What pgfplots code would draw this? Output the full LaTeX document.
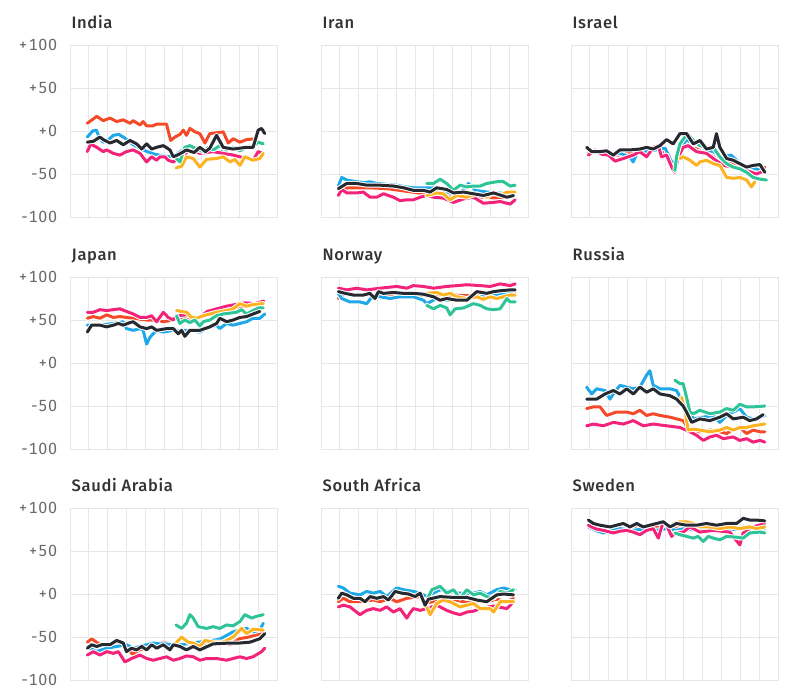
\documentclass[border=0pt]{standalone}
\usepackage{fontspec}
\setmainfont{Fira Sans}
\newfontfamily\titlefam{Fira Sans Medium}[LetterSpace=4]
\newfontfamily\tickfam{Fira Sans}[Numbers=Monospaced, LetterSpace=5]
\usepackage{pgfplots}
\pgfplotsset{compat=1.18}
\definecolor{cred}{HTML}{F54A2A}
\definecolor{cblue}{HTML}{1EA8E8}
\definecolor{cblack}{HTML}{262A30}
\definecolor{cpink}{HTML}{F3237A}
\definecolor{cgreen}{HTML}{2EC497}
\definecolor{cyellow}{HTML}{FDB321}
\definecolor{gridc}{HTML}{E6E6E6}
\definecolor{tickc}{HTML}{6A6A6A}
\definecolor{titlec}{HTML}{333333}
\pgfplotsset{
  panel/.style={
    at={#1}, anchor=north west, scale only axis,
    width=207bp, height=172bp,
    xmin=0, xmax=11, ymin=-100, ymax=100,
    xtick={1,2,3,4,5,6,7,8,9,10}, xticklabels={},
    ytick={-100,-50,0,50,100},
    xmajorgrids, ymajorgrids,
    major grid style={draw=gridc, line width=1bp},
    axis line style={draw=gridc, line width=1bp},
    major tick length=0pt, tick style={draw=none},
    title style={at={(0,1)}, anchor=base west, yshift=11bp, xshift=1.5bp,
      font=\titlefam\fontsize{16.6}{19}\selectfont, text=titlec, inner sep=0pt},
    yticklabel style={font=\tickfam\fontsize{16.2}{19}\selectfont, text=tickc, anchor=east, xshift=-12.5bp, inner sep=0pt},
    every axis plot/.append style={line width=3bp, line join=round, line cap=round,
      preaction={draw=white, line width=5bp}},
  },
  labs/.style={yticklabels={-100,-50,+0,+50,+100}},
  nolabs/.style={yticklabels={}},
}
\begin{document}
\begin{tikzpicture}
\path[use as bounding box] (0,0) rectangle (800bp,-693bp);

% ---------------- India
\begin{axis}[panel={(70bp,-45bp)}, labs, title={India}]
\addplot[cred] coordinates {(0.92,9)(1.42,17)(1.77,12)(2.12,15)(2.48,11)(2.83,13)(3.19,9)(3.36,12)(3.72,7)(3.89,11)(4.07,6)(4.42,6)(4.6,8)(5.13,8)(5.35,-11)(5.58,-7)(5.84,-4)(6.02,1)(6.19,-5)(6.37,3)(6.64,-1)(6.9,-3)(7.17,-14)(7.43,-3)(7.79,-2)(8.14,-1)(8.41,-14)(8.67,-9)(9.03,-13)(9.38,-10)(9.88,-9)};
\addplot[cblue] coordinates {(0.92,-7)(1.2,0)(1.4,1)(1.55,-7)(1.75,-13)(2.0,-11)(2.3,-5)(2.6,-4)(2.9,-8)(3.3,-15)(3.7,-20)(4.1,-24)(4.5,-27)(5.0,-29)(5.3,-30)(5.6,-28)(6.0,-22)(6.5,-20)(7.0,-24)(7.5,-22)(8.0,-24)(8.5,-20)(9.0,-22)(9.5,-18)(9.9,-15)(10.3,-14)};
\addplot[cpink] coordinates {(0.92,-24)(1.1,-15)(1.42,-19)(1.77,-24)(1.95,-22)(2.3,-26)(2.65,-28)(3.0,-24)(3.36,-22)(3.72,-26)(4.07,-36)(4.34,-30)(4.6,-34)(4.78,-30)(5.04,-30)(5.22,-34)(5.49,-36)(5.9,-30)(6.37,-22)(6.9,-26)(7.6,-24)(8.67,-28)(9.38,-32)(9.73,-34)(10.0,-24)(10.27,-26)};
\addplot[cyellow] coordinates {(5.63,-43)(5.93,-41)(6.19,-30)(6.55,-32)(6.9,-42)(7.26,-33)(7.79,-32)(8.14,-30)(8.5,-36)(8.76,-33)(9.03,-40)(9.29,-30)(9.73,-34)(10.09,-32)(10.27,-26)};
\addplot[cgreen] coordinates {(5.58,-30)(5.84,-36)(6.1,-19)(6.37,-17)(6.73,-21)(7.08,-24)(7.35,-19)(7.61,-22)(7.96,-17)(8.32,-22)(8.67,-19)(9.03,-23)(9.38,-19)(9.73,-18)(10.0,-13)(10.27,-15)};
\addplot[cblack] coordinates {(0.92,-13)(1.24,-12)(1.59,-7)(1.77,-10)(2.12,-14)(2.48,-11)(2.83,-16)(3.19,-11)(3.54,-15)(3.81,-21)(4.07,-15)(4.34,-21)(4.6,-19)(4.96,-17)(5.31,-22)(5.49,-30)(5.8,-27)(6.19,-22)(6.6,-25)(6.9,-19)(7.2,-24)(7.43,-20)(7.79,-5)(8.14,-19)(8.67,-21)(9.38,-19)(9.73,-19)(10.0,1)(10.18,3)(10.35,-3)};
\end{axis}

% ---------------- Iran
\begin{axis}[panel={(321bp,-45bp)}, nolabs, title={Iran}]
\addplot[cred] coordinates {(0.92,-68)(1.5,-66)(2.5,-66)(3.5,-67)(4.5,-70)(5.5,-73)(6.5,-74)(7.5,-76)(8.5,-77)(9.5,-78)(10.2,-76)};
\addplot[cblue] coordinates {(0.92,-64)(1.1,-54)(1.37,-57)(1.6,-58)(1.9,-59)(2.3,-60)(2.6,-59)(2.96,-61)(3.5,-62)(4.02,-63)(4.5,-65)(4.91,-66)(5.5,-66)(5.98,-66)(6.5,-70)(7.04,-73)(7.5,-70)(7.84,-61)(8.2,-69)(8.81,-71)(9.4,-72)(10.05,-73)(10.2,-70)};
\addplot[cpink] coordinates {(0.92,-75)(1.1,-68)(1.37,-72)(1.9,-72)(2.25,-71)(2.61,-77)(2.96,-77)(3.32,-73)(3.85,-77)(4.2,-81)(4.56,-80)(4.91,-80)(5.27,-77)(5.62,-75)(5.98,-77)(6.5,-78)(7.04,-83)(7.57,-79)(8.1,-77)(8.63,-84)(9.17,-83)(9.52,-82)(10.05,-85)(10.32,-80)};
\addplot[cyellow] coordinates {(5.62,-75)(6.15,-72)(6.5,-73)(6.86,-80)(7.22,-75)(7.75,-77)(8.28,-73)(8.81,-77)(9.17,-71)(9.52,-75)(9.88,-71)(10.32,-71)};
\addplot[cgreen] coordinates {(5.62,-61)(5.98,-61)(6.33,-56)(6.68,-61)(7.04,-69)(7.39,-63)(7.75,-65)(8.1,-64)(8.46,-64)(8.81,-61)(9.34,-59)(9.7,-59)(10.05,-64)(10.32,-63)};
\addplot[cblack] coordinates {(0.92,-67)(1.37,-61)(1.9,-61)(2.43,-63)(3.14,-63)(3.85,-64)(4.38,-66)(4.91,-69)(5.44,-69)(5.8,-71)(6.15,-66)(6.68,-68)(7.04,-72)(7.57,-71)(8.1,-73)(8.63,-75)(9.17,-72)(9.88,-77)(10.23,-75)};
\end{axis}

% ---------------- Israel
\begin{axis}[panel={(571bp,-45bp)}, nolabs, title={Israel}]
\addplot[cred] coordinates {(0.92,-25)(1.5,-24)(2.0,-27)(2.5,-28)(3.0,-26)(3.5,-24)(4.0,-25)(4.5,-20)(5.0,-25)(5.43,-38)(5.8,-15)(6.2,-12)(6.5,-18)(7.0,-20)(7.5,-25)(8.0,-32)(8.5,-38)(9.0,-42)(9.5,-45)(10.0,-48)(10.3,-42)};
\addplot[cblue] coordinates {(0.92,-22)(1.5,-25)(2.0,-27)(2.6,-26)(3.13,-30)(3.3,-36)(3.5,-26)(4.0,-24)(4.5,-22)(5.0,-20)(5.43,-40)(5.7,-25)(6.14,-10)(6.5,-15)(6.85,-17)(7.2,-22)(7.56,-24)(8.0,-30)(8.5,-28)(9.0,-38)(9.5,-42)(10.0,-45)(10.3,-48)};
\addplot[cpink] coordinates {(0.92,-28)(1.27,-22)(1.63,-27)(1.98,-28)(2.34,-35)(2.78,-32)(3.31,-28)(3.66,-24)(4.02,-30)(4.37,-19)(4.64,-17)(4.81,-30)(5.08,-28)(5.35,-42)(5.52,-48)(5.7,-30)(5.96,-19)(6.23,-17)(6.67,-24)(7.2,-26)(7.56,-32)(8.09,-40)(8.62,-42)(9.33,-46)(9.86,-50)(10.3,-46)};
\addplot[cyellow] coordinates {(5.79,-32)(5.96,-30)(6.32,-34)(6.67,-40)(6.85,-36)(7.2,-34)(7.56,-38)(7.91,-40)(8.27,-54)(8.62,-55)(8.97,-54)(9.33,-57)(9.59,-65)(9.77,-59)};
\addplot[cgreen] coordinates {(5.52,-46)(5.61,-30)(5.79,-15)(6.05,-7)(6.23,-4)(6.5,-11)(6.85,-17)(7.2,-19)(7.56,-19)(7.91,-30)(8.27,-38)(8.62,-42)(8.97,-44)(9.33,-48)(9.68,-54)(10.04,-56)(10.39,-57)};
\addplot[cblack] coordinates {(0.83,-19)(1.1,-24)(1.54,-24)(1.89,-23)(2.25,-28)(2.6,-22)(3.13,-22)(3.66,-21)(4.02,-19)(4.37,-21)(4.73,-17)(5.08,-10)(5.43,-15)(5.79,-3)(6.14,-3)(6.5,-15)(6.85,-11)(7.2,-21)(7.56,-19)(7.73,-3)(7.91,-19)(8.27,-32)(8.62,-34)(8.97,-38)(9.33,-42)(9.68,-40)(10.04,-39)(10.3,-48)};
\end{axis}

% ---------------- Japan
\begin{axis}[panel={(70bp,-277bp)}, labs, title={Japan}]
\addplot[cred] coordinates {(0.92,52)(1.24,54)(1.59,52)(1.95,56)(2.3,53)(2.65,54)(3.0,53)(3.36,52)(3.72,51)(4.07,50)(4.6,50)(4.96,48)(5.49,50)(6.0,52)(6.5,50)(7.0,55)(7.5,59)(8.0,61)(8.5,63)(9.0,65)(9.5,67)(10.3,70)};
\addplot[cblue] coordinates {(0.92,44)(1.59,44)(2.3,46)(2.83,48)(3.0,40)(3.36,38)(3.72,40)(3.89,38)(4.07,22)(4.25,30)(4.6,38)(4.96,36)(5.49,38)(6.19,38)(6.9,36)(7.26,40)(7.79,44)(7.96,40)(8.32,46)(8.67,44)(9.38,48)(9.73,52)(10.09,52)(10.35,57)};
\addplot[cpink] coordinates {(0.92,59)(1.24,59)(1.59,62)(1.95,61)(2.3,62)(2.65,63)(3.0,60)(3.36,57)(3.72,53)(4.07,53)(4.34,55)(4.6,48)(4.96,59)(5.22,53)(5.49,50)(5.66,55)(6.2,56)(6.8,52)(7.3,60)(7.8,63)(8.3,66)(8.8,68)(9.3,70)(9.8,69)(10.3,72)};
\addplot[cyellow] coordinates {(5.66,61)(6.19,59)(6.46,53)(6.73,52)(7.08,55)(7.79,59)(8.32,61)(8.67,63)(9.03,69)(9.38,66)(9.73,68)(10.27,69)};
\addplot[cgreen] coordinates {(5.66,55)(5.84,46)(6.1,50)(6.37,47)(6.64,50)(6.9,43)(7.08,48)(7.43,50)(7.79,55)(8.14,57)(8.5,58)(8.85,59)(9.12,62)(9.38,57)(9.73,61)(10.0,64)(10.27,64)};
\addplot[cblack] coordinates {(0.92,36)(1.15,44)(1.59,44)(1.95,42)(2.3,44)(2.57,46)(2.83,44)(3.19,47)(3.36,48)(3.72,42)(4.07,40)(4.34,42)(4.6,38)(5.13,40)(5.49,40)(5.75,34)(5.93,38)(6.1,31)(6.37,38)(6.9,38)(7.43,42)(7.79,46)(7.96,52)(8.32,48)(8.67,50)(9.03,53)(9.38,54)(9.73,57)(10.09,60)};
\end{axis}

% ---------------- Norway
\begin{axis}[panel={(321bp,-277bp)}, nolabs, title={Norway}]
\addplot[cred] coordinates {(0.92,75)(1.3,81)(2.0,79)(3.0,80)(4.0,79)(5.0,80)(6.0,77)(7.0,79)(8.0,78)(9.0,82)(9.5,84)(10.0,83)(10.3,82)};
\addplot[cblue] coordinates {(0.92,81)(1.1,75)(1.54,71)(2.07,71)(2.43,69)(2.78,79)(3.14,77)(3.67,75)(4.2,77)(4.91,77)(5.44,73)(5.62,69)(6.15,75)(6.68,73)(7.39,73)(7.75,75)(8.46,77)(9.34,79)(10.05,81)(10.32,79)};
\addplot[cpink] coordinates {(0.92,87)(1.37,85)(1.9,87)(2.43,85)(3.14,87)(4.02,89)(4.56,87)(4.91,90)(5.44,89)(5.98,87)(6.68,89)(7.22,90)(7.75,91)(8.46,90)(8.99,89)(9.52,92)(10.05,90)(10.32,92)};
\addplot[cyellow] coordinates {(5.62,81)(6.15,82)(6.5,79)(6.86,81)(7.22,77)(7.75,75)(8.28,77)(8.63,74)(8.99,77)(9.34,75)(9.7,77)(10.05,79)(10.32,79)};
\addplot[cgreen] coordinates {(5.62,67)(5.98,63)(6.33,67)(6.68,64)(6.86,56)(7.13,63)(7.57,64)(8.1,69)(8.46,67)(8.81,63)(9.17,62)(9.52,63)(9.88,75)(10.05,71)(10.32,71)};
\addplot[cblack] coordinates {(0.92,83)(1.28,81)(1.72,79)(2.25,79)(2.6,81)(2.87,75)(3.05,83)(3.32,81)(3.85,82)(4.38,81)(4.91,81)(5.44,80)(5.98,77)(6.33,73)(6.68,75)(7.22,73)(7.75,73)(8.28,83)(8.81,81)(9.17,83)(9.52,84)(10.05,85)(10.32,85)};
\end{axis}

% ---------------- Russia
\begin{axis}[panel={(571bp,-277bp)}, nolabs, title={Russia}]
\addplot[cred] coordinates {(0.83,-53)(1.19,-51)(1.54,-51)(1.89,-61)(2.42,-57)(2.96,-57)(3.31,-59)(3.66,-55)(4.02,-61)(4.37,-59)(4.73,-61)(5.26,-63)(5.61,-65)(5.96,-67)(6.32,-80)(6.85,-80)(7.38,-78)(7.91,-80)(8.27,-82)(8.62,-77)(8.97,-75)(9.33,-82)(9.68,-78)(10.04,-80)(10.3,-80)};
\addplot[cblue] coordinates {(0.83,-28)(1.1,-36)(1.36,-30)(1.81,-32)(2.07,-42)(2.25,-36)(2.6,-26)(2.96,-28)(3.31,-30)(3.66,-28)(4.02,-14)(4.19,-9)(4.37,-26)(4.73,-30)(5.26,-30)(5.61,-32)(5.96,-46)(6.14,-51)(6.5,-65)(7.03,-63)(7.56,-61)(7.91,-69)(8.27,-61)(8.62,-57)(8.97,-53)(9.33,-63)(9.68,-65)(10.04,-63)(10.3,-61)};
\addplot[cpink] coordinates {(0.83,-73)(1.19,-71)(1.72,-73)(2.25,-69)(2.78,-71)(3.31,-67)(3.84,-73)(4.37,-71)(5.08,-73)(5.79,-75)(6.32,-80)(6.67,-84)(7.03,-90)(7.38,-86)(7.73,-84)(8.09,-88)(8.62,-86)(8.97,-90)(9.33,-88)(9.68,-92)(10.04,-90)(10.3,-92)};
\addplot[cyellow] coordinates {(5.88,-40)(6.05,-55)(6.23,-78)(6.5,-77)(6.85,-78)(7.38,-80)(7.91,-78)(8.27,-75)(8.62,-78)(8.97,-75)(9.33,-75)(9.68,-73)(10.3,-71)};
\addplot[cgreen] coordinates {(5.52,-20)(5.79,-24)(5.96,-24)(6.14,-40)(6.32,-57)(6.5,-59)(6.85,-55)(7.38,-59)(7.91,-57)(8.27,-53)(8.62,-55)(8.97,-48)(9.33,-51)(9.68,-51)(10.3,-50)};
\addplot[cblack] coordinates {(0.83,-42)(1.36,-42)(1.81,-36)(2.25,-32)(2.6,-36)(2.96,-30)(3.31,-36)(3.66,-28)(4.02,-34)(4.37,-30)(4.73,-36)(5.26,-38)(5.61,-42)(5.96,-50)(6.14,-57)(6.41,-69)(6.85,-65)(7.38,-67)(7.91,-63)(8.27,-59)(8.62,-65)(9.15,-63)(9.5,-67)(9.86,-65)(10.21,-60)};
\end{axis}

% ---------------- Saudi Arabia
\begin{axis}[panel={(70bp,-508bp)}, labs, title={Saudi Arabia}]
\addplot[cred] coordinates {(0.92,-56)(1.15,-52)(1.4,-56)(1.7,-60)(2.2,-58)(2.7,-57)(3.1,-63)(3.3,-70)(3.7,-65)(4.2,-62)(4.7,-58)(5.0,-56)(5.5,-60)(6.0,-58)(6.5,-60)(7.0,-60)(7.5,-57)(8.0,-55)(8.5,-59)(9.0,-52)(9.5,-50)(10.0,-47)(10.3,-45)};
\addplot[cblue] coordinates {(0.92,-61)(1.4,-67)(1.95,-63)(2.48,-61)(3.0,-59)(3.36,-63)(3.72,-61)(4.07,-59)(4.42,-57)(4.78,-58)(5.13,-58)(5.6,-60)(6.2,-58)(6.8,-56)(7.4,-55)(8.0,-52)(8.67,-44)(9.38,-40)(9.73,-44)(10.09,-42)(10.27,-34)};
\addplot[cpink] coordinates {(0.92,-71)(1.24,-67)(1.59,-71)(1.95,-67)(2.3,-69)(2.57,-67)(2.92,-79)(3.27,-75)(3.72,-71)(4.07,-75)(4.42,-77)(4.78,-75)(5.13,-73)(5.49,-77)(5.84,-75)(6.19,-72)(6.55,-73)(6.9,-77)(7.26,-75)(7.79,-75)(8.32,-77)(8.67,-75)(9.03,-73)(9.38,-75)(9.73,-73)(10.18,-67)(10.35,-63)};
\addplot[cyellow] coordinates {(5.63,-57)(5.93,-50)(6.28,-56)(6.55,-57)(6.9,-61)(7.17,-54)(7.61,-56)(8.14,-56)(8.67,-50)(9.12,-40)(9.38,-46)(9.73,-41)(10.27,-42)};
\addplot[cgreen] coordinates {(5.63,-36)(5.93,-40)(6.19,-34)(6.37,-24)(6.55,-28)(6.81,-38)(7.26,-40)(7.61,-38)(7.96,-40)(8.32,-36)(8.67,-37)(9.03,-32)(9.29,-24)(9.65,-28)(9.91,-26)(10.27,-24)};
\addplot[cblack] coordinates {(0.92,-63)(1.15,-59)(1.42,-61)(1.68,-59)(2.12,-59)(2.48,-54)(2.83,-57)(3.0,-67)(3.27,-63)(3.54,-65)(3.81,-61)(4.07,-65)(4.34,-59)(4.6,-63)(4.96,-59)(5.31,-65)(5.49,-59)(5.84,-61)(6.19,-65)(6.55,-61)(6.9,-65)(7.6,-58)(8.5,-57)(9.03,-57)(9.56,-56)(10.09,-52)(10.35,-46)};
\end{axis}

% ---------------- South Africa
\begin{axis}[panel={(321bp,-508bp)}, nolabs, title={South Africa}]
\addplot[cred] coordinates {(0.92,-9)(1.19,-5)(1.54,-9)(2.07,-9)(2.78,-7)(3.14,-9)(3.67,-5)(4.02,-9)(4.56,-5)(5.27,-3)(5.62,-10)(6.3,-8)(7.0,-6)(7.75,-10)(8.46,-8)(8.81,-9)(9.34,-6)(9.88,-9)(10.23,-5)};
\addplot[cblue] coordinates {(0.92,9)(1.19,7)(1.54,1)(2.07,-1)(2.43,3)(2.78,1)(3.14,3)(3.49,-3)(4.02,7)(4.38,5)(4.91,3)(5.27,1)(5.62,-3)(6.33,5)(7.04,2)(7.75,0)(8.1,1)(8.46,3)(8.81,-1)(9.34,5)(9.7,7)(10.05,5)(10.32,5)};
\addplot[cpink] coordinates {(0.92,-15)(1.19,-13)(1.54,-15)(2.07,-24)(2.43,-19)(2.78,-17)(3.14,-19)(3.49,-15)(3.85,-21)(4.2,-17)(4.56,-28)(4.73,-22)(4.91,-17)(5.27,-19)(5.62,-17)(6.15,-13)(6.68,-19)(7.04,-22)(7.39,-24)(7.75,-21)(8.1,-20)(8.46,-17)(9.17,-14)(9.88,-17)(10.23,-9)};
\addplot[cyellow] coordinates {(5.62,-15)(5.8,-24)(6.15,-11)(6.5,-7)(6.86,-9)(7.39,-15)(7.75,-13)(8.1,-11)(8.46,-17)(8.99,-17)(9.17,-21)(9.52,-9)(9.88,-9)(10.23,-9)};
\addplot[cgreen] coordinates {(5.62,-7)(5.89,5)(6.33,9)(6.68,1)(7.04,5)(7.39,-5)(7.75,5)(8.1,-1)(8.46,1)(8.81,-3)(9.17,-5)(9.52,3)(9.88,1)(10.23,5)};
\addplot[cblack] coordinates {(0.92,-5)(1.1,1)(1.37,-1)(1.72,-5)(2.07,-5)(2.34,-9)(2.61,-3)(2.96,-5)(3.32,-3)(3.58,-7)(3.94,3)(4.29,1)(4.65,0)(5.0,-3)(5.27,1)(5.53,-13)(5.71,-6)(6.33,-3)(7.04,-4)(7.75,-4)(8.28,-7)(8.81,-9)(9.34,-1)(9.7,0)(10.23,-1)};
\end{axis}

% ---------------- Sweden
\begin{axis}[panel={(571bp,-508bp)}, nolabs, title={Sweden}]
\addplot[cred] coordinates {(0.92,80)(1.5,78)(2.5,76)(3.5,77)(4.5,78)(5.5,76)(6.5,79)(7.0,80)(7.5,77)(8.0,78)(8.5,77)(9.0,76)(9.5,78)(10.3,80)};
\addplot[cblue] coordinates {(0.92,78)(1.3,74)(1.72,71)(2.07,73)(2.6,76)(3.3,74)(4.0,76)(4.5,74)(5.1,76)(5.6,74)(6.0,76)(6.7,74)(7.5,76)(8.3,74)(9.0,76)(9.7,78)(10.3,76)};
\addplot[cpink] coordinates {(0.92,80)(1.27,76)(1.72,74)(2.25,71)(2.6,73)(2.96,74)(3.31,72)(3.66,69)(4.02,74)(4.37,76)(4.64,65)(4.9,84)(5.08,80)(5.35,67)(5.52,71)(5.96,72)(6.32,78)(6.85,72)(7.56,74)(8.44,72)(8.97,57)(9.15,71)(9.68,78)(10.3,82)};
\addplot[cyellow] coordinates {(5.43,82)(5.79,84)(6.14,84)(6.5,82)(6.85,78)(7.38,78)(7.91,76)(8.44,78)(8.97,76)(9.5,78)(9.86,76)(10.3,78)};
\addplot[cgreen] coordinates {(5.52,71)(5.79,69)(6.14,67)(6.5,65)(6.76,67)(7.03,61)(7.29,67)(7.56,65)(7.91,63)(8.27,67)(8.8,66)(9.15,65)(9.5,71)(10.04,72)(10.3,71)};
\addplot[cblack] coordinates {(0.92,86)(1.19,82)(1.54,80)(2.07,78)(2.42,80)(2.78,82)(3.13,78)(3.49,82)(3.84,78)(4.19,80)(4.55,82)(4.9,84)(5.26,78)(5.61,82)(6.14,80)(6.67,80)(7.2,82)(7.73,80)(8.27,82)(8.8,82)(9.15,88)(9.5,86)(9.86,86)(10.3,85)};
\end{axis}
\end{tikzpicture}
\end{document}
